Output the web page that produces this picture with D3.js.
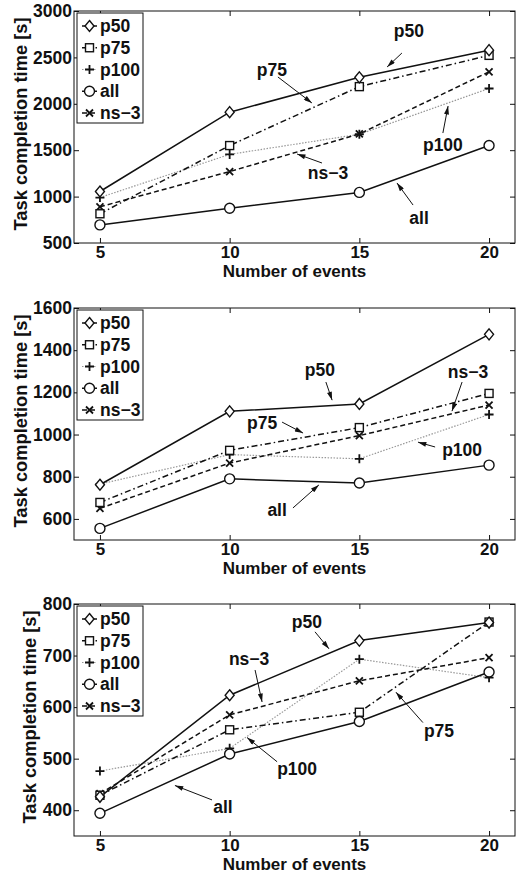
<!DOCTYPE html>
<html lang="en">
<head>
<meta charset="UTF-8">
<title>task completion time</title>
<script src="https://d3js.org/d3.v7.min.js"></script>
<style>
  body { margin: 0; background: #fff; }
  text { font-family: "Liberation Sans", Arial, sans-serif; font-weight: bold; fill: #111; }
</style>
</head>
<body>
<svg width="516" height="874"></svg>
<script>
// data
var events = [5, 10, 15, 20];
var seriesNames = ["p50", "p75", "p100", "all", "ns-3"];

// panel 1
var a_p50 = [1055, 1910, 2285, 2578];
var a_p75 = [815, 1550, 2185, 2522];
var a_p100 = [990, 1455, 1672, 2165];
var a_all = [695, 875, 1045, 1550];
var a_ns3 = [890, 1270, 1675, 2345];
var a_yTicks = [500, 1000, 1500, 2000, 2500, 3000];

// panel 2
var b_p50 = [762, 1110, 1145, 1475];
var b_p75 = [678, 925, 1033, 1195];
var b_p100 = [765, 905, 885, 1095];
var b_all = [555, 790, 770, 855];
var b_ns3 = [650, 865, 995, 1140];
var b_yTicks = [600, 800, 1000, 1200, 1400, 1600];

// panel 3
var c_p50 = [426, 623, 729, 764];
var c_p75 = [429, 556, 590, 765];
var c_p100 = [476, 520, 693, 657];
var c_all = [394, 509, 572, 668];
var c_ns3 = [432, 585, 651, 696];
var c_yTicks = [400, 500, 600, 700, 800];

// annotation: label, text pos, arrow start, arrow end (data units)
var a_notes = [
  ["p50", 16.91, 2784, 16.64, 2547, 16.07, 2397],
  ["p75", 11.63, 2364, 11.86, 2289, 13.17, 2009],
  ["p100", 18.22, 1556, 18.22, 1685, 18.42, 1976],
  ["ns\u22123", 13.79, 1254, 13.56, 1362, 12.6, 1459],
  ["all", 17.3, 769, 17.07, 909, 16.45, 1147]
];
var b_notes = [
  ["p50", 13.48, 1306, 13.71, 1249, 13.95, 1163],
  ["p75", 11.25, 1055, 12.02, 1059, 12.83, 1007],
  ["ns\u22123", 19.19, 1296, 18.96, 1249, 18.57, 1111],
  ["p100", 18.96, 927, 17.92, 941, 17.26, 964],
  ["all", 11.83, 642, 12.44, 652, 13.44, 761]
];
var c_notes = [
  ["p50", 12.98, 766, 13.29, 746, 13.83, 713],
  ["ns\u22123", 10.75, 693, 10.98, 672, 11.25, 610],
  ["p100", 12.6, 481, 11.83, 494, 10.67, 541],
  ["p75", 18.07, 553, 17.45, 570, 16.41, 629],
  ["all", 9.74, 407, 9.32, 420, 7.89, 448]
];

var svg = d3.select('svg');

// arrow head
svg.append('defs').append('marker')
  .attr('id', 'head')
  .attr('viewBox', '0 0 10 6')
  .attr('refX', 10).attr('refY', 3)
  .attr('markerWidth', 10).attr('markerHeight', 5)
  .attr('markerUnits', 'userSpaceOnUse')
  .attr('orient', 'auto')
  .append('path').attr('d', 'M0,0 L10,3 L0,6 Z').attr('fill', '#111');

// line styles per series
var styles = {
  "p50":  {dash: null, color: '#111', sym: 'diamond'},
  "p75":  {dash: '6,3,1.5,3', color: '#111', sym: 'square'},
  "p100": {dash: '1.5,1.5', color: '#999', sym: 'plus'},
  "all":  {dash: null, color: '#111', sym: 'circle'},
  "ns-3": {dash: '5,3', color: '#111', sym: 'cross'}
};

function drawSymbol(g, sym, x, y) {
  if (sym === 'diamond') {
    g.append('path').attr('d', 'M' + x + ',' + (y - 5.5) + 'L' + (x + 4.5) + ',' + y + 'L' + x + ',' + (y + 5.5) + 'L' + (x - 4.5) + ',' + y + 'Z')
      .attr('fill', '#fff').attr('stroke', '#111').attr('stroke-width', 1.4);
  } else if (sym === 'square') {
    g.append('rect').attr('x', x - 4).attr('y', y - 4).attr('width', 8).attr('height', 8)
      .attr('fill', '#fff').attr('stroke', '#111').attr('stroke-width', 1.4);
  } else if (sym === 'circle') {
    g.append('circle').attr('cx', x).attr('cy', y).attr('r', 5)
      .attr('fill', '#fff').attr('stroke', '#111').attr('stroke-width', 1.4);
  } else if (sym === 'plus') {
    g.append('path').attr('d', 'M' + (x - 4.5) + ',' + y + 'H' + (x + 4.5) + 'M' + x + ',' + (y - 4.5) + 'V' + (y + 4.5))
      .attr('stroke', '#111').attr('stroke-width', 1.8);
  } else if (sym === 'cross') {
    g.append('path').attr('d', 'M' + (x - 3.5) + ',' + (y - 3.5) + 'L' + (x + 3.5) + ',' + (y + 3.5) + 'M' + (x - 3.5) + ',' + (y + 3.5) + 'L' + (x + 3.5) + ',' + (y - 3.5))
      .attr('stroke', '#111').attr('stroke-width', 1.8);
  }
}

function drawPanel(cfg) {
  var left = 74, right = 515;
  var x = d3.scaleLinear().domain([4, 21]).range([left, right]);
  var y = d3.scaleLinear().domain(cfg.yDomain).range([cfg.bottom, cfg.top]);
  var g = svg.append('g');

  // axis box
  g.append('rect').attr('x', left).attr('y', cfg.top)
    .attr('width', right - left).attr('height', cfg.bottom - cfg.top)
    .attr('fill', 'none').attr('stroke', '#111').attr('stroke-width', 1);

  // x axis (ticks inward, top and bottom)
  var xb = g.append('g').attr('transform', 'translate(0,' + cfg.bottom + ')')
    .call(d3.axisBottom(x).tickValues(events).tickSizeInner(-5).tickSizeOuter(0).tickPadding(3));
  var xt = g.append('g').attr('transform', 'translate(0,' + cfg.top + ')')
    .call(d3.axisTop(x).tickValues(events).tickSizeInner(-5).tickSizeOuter(0).tickFormat(''));
  // y axis (ticks inward, left and right)
  var yl = g.append('g').attr('transform', 'translate(' + left + ',0)')
    .call(d3.axisLeft(y).tickValues(cfg.yTicks).tickFormat(d3.format('d')).tickSizeInner(-5).tickSizeOuter(0).tickPadding(2));
  var yr = g.append('g').attr('transform', 'translate(' + right + ',0)')
    .call(d3.axisRight(y).tickValues(cfg.yTicks).tickSizeInner(-5).tickSizeOuter(0).tickFormat(''));
  [xb, xt, yl, yr].forEach(function (a) {
    a.select('.domain').remove();
    a.selectAll('line').attr('stroke', '#111');
    a.selectAll('text').attr('font-size', 17.5).attr('font-family', null).attr('fill', '#111');
  });
  xb.selectAll('text').attr('font-size', 17);

  // axis titles
  g.append('text').attr('x', (left + right) / 2).attr('y', cfg.bottom + 34.4)
    .attr('text-anchor', 'middle').attr('font-size', 17).text('Number of events');
  g.append('text')
    .attr('transform', 'translate(' + cfg.titleX + ',' + ((cfg.top + cfg.bottom) / 2 - 3) + ') rotate(-90)')
    .attr('text-anchor', 'middle').attr('dy', '0.35em').attr('font-size', 18.3)
    .text('Task completion time [s]');

  var line = d3.line().x(function (d, i) { return x(events[i]); }).y(function (d) { return y(d); });

  // draw in back-to-front order
  var order = ["p100", "ns-3", "p75", "all", "p50"];
  order.forEach(function (name) {
    var st = styles[name];
    var vals = cfg.series[name];
    g.append('path').datum(vals).attr('d', line)
      .attr('fill', 'none').attr('stroke', st.color).attr('stroke-width', name === 'p100' ? 1.2 : 1.5)
      .attr('stroke-dasharray', st.dash);
  });
  order.forEach(function (name) {
    var st = styles[name];
    cfg.series[name].forEach(function (v, i) {
      drawSymbol(g, st.sym, x(events[i]), y(v));
    });
  });

  // annotations
  cfg.notes.forEach(function (n) {
    g.append('line')
      .attr('x1', x(n[3])).attr('y1', y(n[4]))
      .attr('x2', x(n[5])).attr('y2', y(n[6]))
      .attr('stroke', '#111').attr('stroke-width', 1)
      .attr('marker-end', 'url(#head)');
    g.append('text').attr('x', x(n[1])).attr('y', y(n[2]))
      .attr('text-anchor', 'middle').attr('dy', '0.35em').attr('font-size', 17.5)
      .text(n[0]);
  });

  // legend
  var lg = g.append('g').attr('transform', 'translate(' + (left + 3) + ',' + (cfg.top + 2) + ')');
  lg.append('rect').attr('width', 66).attr('height', 110)
    .attr('fill', '#fff').attr('stroke', '#111').attr('stroke-width', 1);
  seriesNames.forEach(function (name, i) {
    var st = styles[name];
    var yy = 13 + i * 21.75;
    lg.append('line').attr('x1', 5).attr('x2', 20).attr('y1', yy).attr('y2', yy)
      .attr('stroke', st.color).attr('stroke-width', name === 'p100' ? 1.2 : 1.5)
      .attr('stroke-dasharray', st.dash);
    drawSymbol(lg, st.sym, 12.5, yy);
    lg.append('text').attr('x', 23).attr('y', yy).attr('dy', '0.35em')
      .attr('font-size', 17.5).text(name === 'ns-3' ? 'ns\u22123' : name);
  });
}

drawPanel({
  top: 11, bottom: 243, yDomain: [500, 3000], yTicks: a_yTicks, titleX: 21,
  series: {"p50": a_p50, "p75": a_p75, "p100": a_p100, "all": a_all, "ns-3": a_ns3},
  notes: a_notes
});
drawPanel({
  top: 308, bottom: 540, yDomain: [500, 1600], yTicks: b_yTicks, titleX: 21,
  series: {"p50": b_p50, "p75": b_p75, "p100": b_p100, "all": b_all, "ns-3": b_ns3},
  notes: b_notes
});
drawPanel({
  top: 604, bottom: 836, yDomain: [350, 800], yTicks: c_yTicks, titleX: 30,
  series: {"p50": c_p50, "p75": c_p75, "p100": c_p100, "all": c_all, "ns-3": c_ns3},
  notes: c_notes
});
</script>
</body>
</html>
